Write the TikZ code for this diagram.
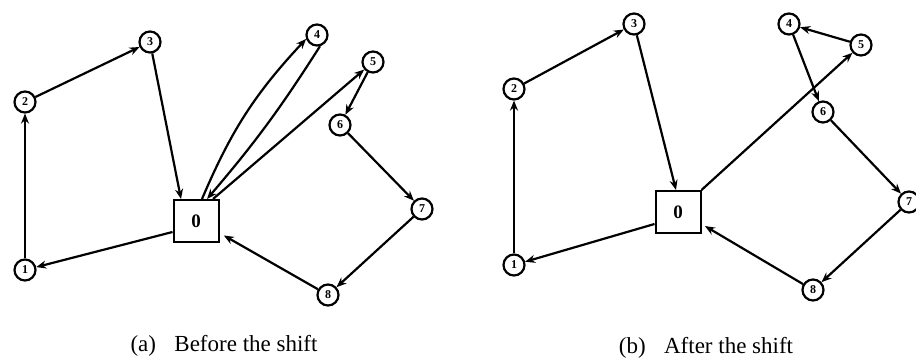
\documentclass[tikz,border=0pt]{standalone}
\usepackage{fontspec}
\setmainfont{Liberation Serif}
\usetikzlibrary{arrows.meta}
\begin{document}
\begin{tikzpicture}[x=1pt,y=-1pt,
  vert/.style={circle,draw,line width=2.2pt,minimum size=21pt,inner sep=0pt,font=\fontsize{12}{12}\selectfont\bfseries},
  hub/.style={rectangle,draw,line width=2pt,minimum width=45pt,minimum height=42pt,inner sep=0pt,font=\fontsize{19}{19}\selectfont\bfseries},
  edge/.style={line width=2.2pt,-{Stealth[length=10pt,width=8pt]}},
  captext/.style={font=\fontsize{23}{23}\selectfont,inner sep=0pt}
]
\fill[white] (0,0) rectangle (916,363);
\useasboundingbox (0,0) rectangle (916,363);
% panel (a)
\node[hub]  (a0) at (196,221) {0};
\node[vert] (a1) at (25,270) {1};
\node[vert] (a2) at (25,102) {2};
\node[vert] (a3) at (150,42) {3};
\node[vert] (a4) at (317,35) {4};
\node[vert] (a5) at (373,62) {5};
\node[vert] (a6) at (340,125) {6};
\node[vert] (a7) at (422,209) {7};
\node[vert] (a8) at (328,295) {8};
\draw[edge] (a1) -- (a2);
\draw[edge] (a2) -- (a3);
\draw[edge] (a3) -- ([xshift=-15pt]a0.north);
\draw[edge] ([xshift=6pt]a0.north) to[bend left=10] (a4.200);
\draw[edge] (a4.285) to[bend left=4] ([xshift=11pt]a0.north);
\draw[edge] ([xshift=17pt]a0.north) -- (a5);
\draw[edge] (a5) -- (a6);
\draw[edge] (a6) -- (a7);
\draw[edge] (a7) -- (a8);
\draw[edge,shorten >=5pt] (a8) -- ([yshift=-12pt]a0.east);
\draw[edge] ([yshift=-11pt]a0.west) -- (a1);
\node[captext] (capa) at (224,346) {(a)\hspace{0.8em}Before the shift};
% panel (b)
\node[hub]  (b0) at (678,212) {0};
\node[vert] (b1) at (514,265) {1};
\node[vert] (b2) at (514,89) {2};
\node[vert] (b3) at (634,24) {3};
\node[vert] (b4) at (789,24) {4};
\node[vert] (b5) at (861,45) {5};
\node[vert] (b6) at (823,112) {6};
\node[vert] (b7) at (909,202) {7};
\node[vert] (b8) at (813,290) {8};
\draw[edge] (b1) -- (b2);
\draw[edge] (b2) -- (b3);
\draw[edge] (b3) -- ([xshift=-2pt]b0.north);
\draw[edge] (b0.north east) -- (b5);
\draw[edge] (b5) -- (b4);
\draw[edge] (b4) -- (b6);
\draw[edge] (b6) -- (b7);
\draw[edge] (b7) -- (b8);
\draw[edge,shorten >=4pt] (b8) -- ([yshift=-12pt]b0.east);
\draw[edge] ([yshift=-12pt]b0.west) -- (b1);
\node[captext] (capb) at (706,348) {(b)\hspace{0.8em}After the shift};
\end{tikzpicture}
\end{document}
